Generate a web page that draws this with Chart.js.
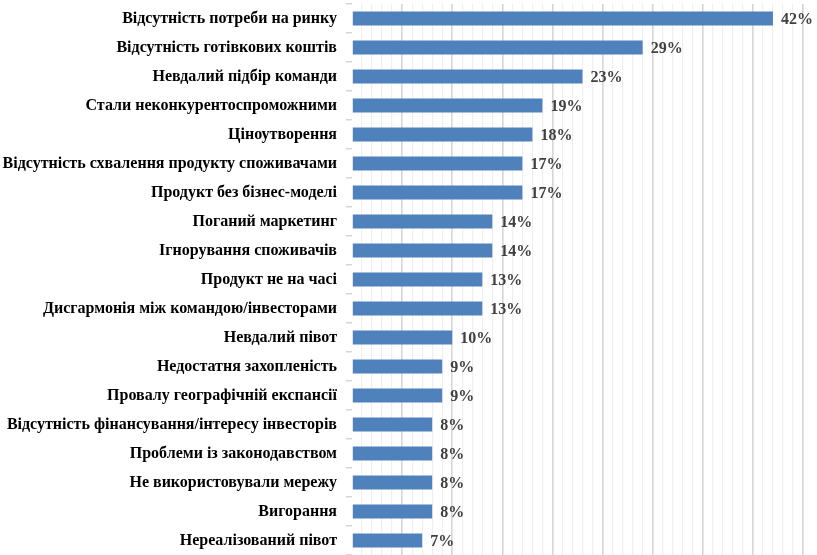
<!DOCTYPE html>
<html>
<head>
<meta charset="utf-8">
<script src="https://cdn.jsdelivr.net/npm/chart.js@4"></script>
<style>
html,body{margin:0;padding:0;background:#fff;}
#wrap{width:817px;height:555px;position:relative;}
</style>
</head>
<body>
<div id="wrap"><canvas id="c" width="817" height="555"></canvas></div>
<script>
const categories = [
  "Відсутність потреби на ринку",
  "Відсутність готівкових коштів",
  "Невдалий підбір команди",
  "Стали неконкурентоспроможними",
  "Ціноутворення",
  "Відсутність схвалення продукту споживачами",
  "Продукт без бізнес-моделі",
  "Поганий маркетинг",
  "Ігнорування споживачів",
  "Продукт не на часі",
  "Дисгармонія між командою/інвесторами",
  "Невдалий півот",
  "Недостатня захопленість",
  "Провалу географічній експансії",
  "Відсутність фінансування/інтересу інвесторів",
  "Проблеми із законодавством",
  "Не використовували мережу",
  "Вигорання",
  "Нереалізований півот"
];
const values = [42, 29, 23, 19, 18, 17, 17, 14, 14, 13, 13, 10, 9, 9, 8, 8, 8, 8, 7];
const xMin = 0, xMax = 45, xStep = 1, majorEvery = 5;

const valueLabels = {
  id: 'valueLabels',
  afterDatasetsDraw(chart) {
    const ctx = chart.ctx;
    const meta = chart.getDatasetMeta(0);
    ctx.save();
    ctx.font = 'bold 16px "Liberation Serif", "Times New Roman", serif';
    ctx.fillStyle = '#404040';
    ctx.textAlign = 'left';
    ctx.textBaseline = 'middle';
    meta.data.forEach((bar, i) => {
      ctx.fillText(values[i] + '%', bar.x + 8, bar.y + 1);
    });
    ctx.restore();
  }
};

new Chart(document.getElementById('c'), {
  type: 'bar',
  data: {
    labels: categories,
    datasets: [{
      data: values,
      backgroundColor: '#4f81bd',
      borderWidth: 0,
      barPercentage: 0.49,
      categoryPercentage: 1
    }]
  },
  options: {
    indexAxis: 'y',
    responsive: false,
    animation: false,
    devicePixelRatio: 1,
    layout: { padding: { left: 0, right: 14, top: 4, bottom: 0 } },
    plugins: { legend: { display: false }, tooltip: { enabled: false } },
    scales: {
      x: {
        min: xMin, max: xMax,
        ticks: { display: false, stepSize: xStep },
        border: { display: false },
        grid: {
          drawTicks: false,
          color: (c) => {
            const v = c.tick ? c.tick.value : 0;
            if (v === 0) return 'rgba(0,0,0,0)';
            return v % majorEvery === 0 ? '#d6d6d6' : '#efefef';
          },
          lineWidth: (c) => {
            const v = c.tick ? c.tick.value : 0;
            return v % majorEvery === 0 ? 1.6 : 1.2;
          }
        },
        afterFit: (s) => { s.height = 0; s.paddingLeft = 0; s.paddingRight = 0; s.paddingTop = 0; s.paddingBottom = 0; }
      },
      y: {
        border: { display: false },
        grid: {
          drawOnChartArea: false,
          drawTicks: true,
          tickLength: 6,
          offset: true,
          color: '#d6d6d6',
          lineWidth: 1.5
        },
        ticks: {
          color: '#000',
          padding: 9,
          font: { family: '"Liberation Serif", "Times New Roman", serif', size: 16, weight: 'bold' }
        },
        afterFit: (s) => { s.width = 352; s.paddingTop = 0; s.paddingBottom = 0; s.paddingLeft = 0; s.paddingRight = 0; }
      }
    }
  },
  plugins: [valueLabels]
});
</script>
</body>
</html>
